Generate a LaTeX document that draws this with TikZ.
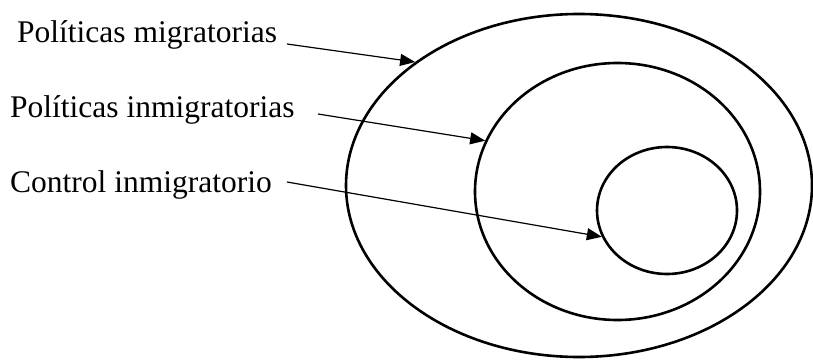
\documentclass[tikz,border=0pt]{standalone}
\usepackage{fontspec}
\setmainfont{Liberation Serif}
\usetikzlibrary{shapes.geometric,arrows.meta}
\begin{document}
\begin{tikzpicture}[x=1pt,y=-1pt,
  ring/.style={draw, ellipse, line width=2.6pt, inner sep=0pt},
  lab/.style={anchor=base west, inner sep=0pt, font=\fontsize{31.5}{38}\selectfont},
  arr/.style={line width=1.2pt, -{Triangle[length=15pt,width=12pt]}}]
\useasboundingbox (0,0) rectangle (813,361);
\node[ring, minimum width=466pt, minimum height=343pt] (outer) at (579,185.5) {};
\node[ring, minimum width=285pt, minimum height=257pt] (mid) at (617.5,191.5) {};
\node[ring, minimum width=140pt, minimum height=127pt] (inner) at (667,210.5) {};
\node[lab] (l1) at (17,43) {Políticas migratorias};
\node[lab] (l2) at (10,117) {Políticas inmigratorias};
\node[lab] (l3) at (10,192) {Control inmigratorio};
\coordinate (s1) at (287,44);
\coordinate (s2) at (318,114);
\coordinate (s3) at (287,182);
\draw[arr] (s1) -- (outer.143.9);
\draw[arr] (s2) -- (mid.159.2);
\draw[arr] (s3) -- (inner.202.5);
\end{tikzpicture}
\end{document}
